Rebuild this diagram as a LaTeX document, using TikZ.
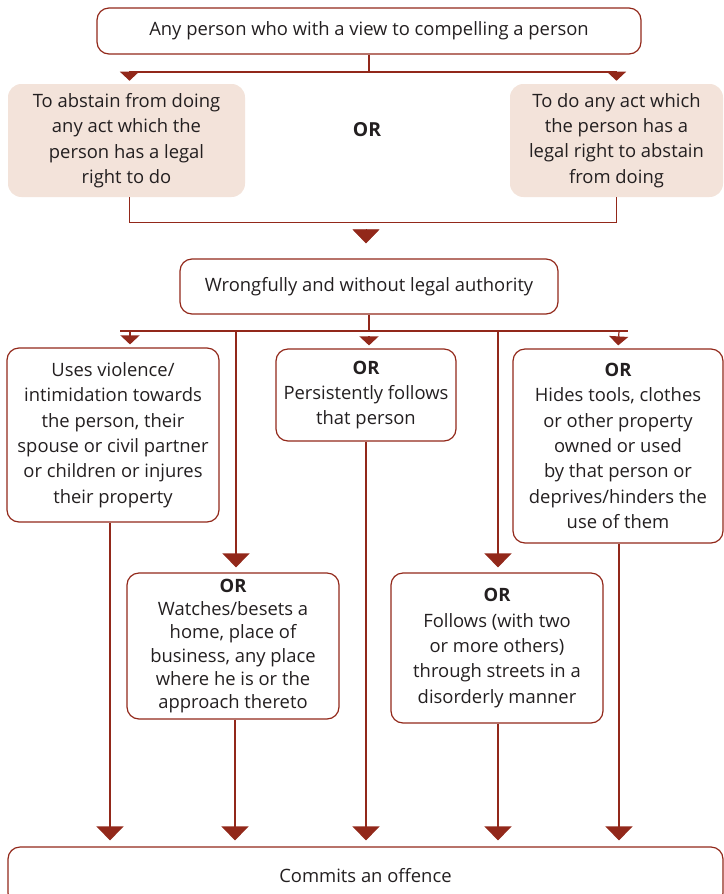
\documentclass[tikz,border=0pt]{standalone}
\usepackage{fontspec}
\setmainfont{Open Sans}
\usetikzlibrary{arrows.meta,calc}
\definecolor{linkred}{RGB}{146,40,26}
\definecolor{shade}{RGB}{243,227,218}
\definecolor{ink}{RGB}{35,31,32}
\def\px{0.75pt}

\begin{document}
\begin{tikzpicture}[x=0.75pt,y=-0.75pt,
		every node/.style={text=ink, font=\fontsize{13.8}{19}\selectfont},
		box/.style={draw=linkred, line width=0.9pt, rounded corners=9pt, align=center, inner sep=0pt},
		shadebox/.style={fill=shade, rounded corners=10pt, align=center, inner sep=0pt},
		link/.style={draw=linkred, line width=0.9pt},
		smalltip/.style={-{Triangle[width=19*\px,length=9*\px]}, linkred},
		bigtip/.style={-{Triangle[width=27*\px,length=14*\px]}, linkred}]
			%%%%% START %%%%%
			\useasboundingbox (0,0) rectangle (724,894);
			\clip (0,0) rectangle (724,894);
			
			\node[box, minimum width=544*\px, minimum height=46*\px] (top) at (369,31) {Any person who with a view to compelling a person};
			
			\node[shadebox, minimum width=237*\px, minimum height=113*\px] (lbox) at (126.5,140.5) {To abstain from doing\\any act which the\\person has a legal\\right to do};
			\node[font=\fontsize{14.5}{19}\selectfont\bfseries] (or) at (367,130) {OR};
			\node[shadebox, minimum width=213*\px, minimum height=113*\px] (rbox) at (616.5,140.5) {To do any act which\\the person has a\\legal right to abstain\\from doing};
			
			\node[box, minimum width=378*\px, minimum height=55*\px] (mid) at (369,286.5) {Wrongfully and without legal authority};
			
			\node[box, minimum width=212*\px, minimum height=174*\px] (A) at (113,435) {Uses violence/\\intimidation towards\\the person, their\\spouse or civil partner\\or children or injures\\their property};
			\node[box, minimum width=180*\px, minimum height=92*\px] (C) at (366,395) {\textbf{OR}\\Persistently follows\\that person};
			\node[box, minimum width=210*\px, minimum height=194*\px] (E) at (618,446) {\textbf{OR}\\Hides tools, clothes\\or other property\\owned or used\\by that person or\\deprives/hinders the\\use of them};
			
			\node[box, minimum width=212*\px, minimum height=146*\px, font=\fontsize{13.8}{17.5}\selectfont] (B) at (233,646) {\textbf{OR}\\Watches/besets a\\home, place of\\business, any place\\where he is or the\\approach thereto};
			\node[box, minimum width=212*\px, minimum height=150*\px] (D) at (497,648) {\textbf{OR}\\Follows (with two\\or more others)\\through streets in a\\disorderly manner};
			
			\node[box, minimum width=715*\px, minimum height=58*\px] (fin) at (365.5,876) {Commits an offence};
			
			%%%%% first split %%%%%
			\coordinate (split1) at (369,72);
			\draw[link] (top.south) -- (split1);
			\draw[link, smalltip, shorten >=3*\px] (split1) -| ($(lbox.north)+(3,0)$);
			\draw[link, smalltip, shorten >=3*\px] (split1) -| (rbox.north);
			
			\draw[link] ($(lbox.south)+(3,0)$) |- ($(lbox.south)+(240,25)$) -| (rbox.south);
			\draw[bigtip, shorten >=15*\px] ($(mid.north)+(-3,-29)$) -- ($(mid.north)+(-3,0)$);
			
			%%%%% second split %%%%%
			\coordinate (split2) at (369,331);
			\coordinate (busL) at (120,331);
			\coordinate (busR) at (628,331);
			\draw[link] (mid.south) -- (split2);
			\draw[link] (busL) -- (busR);
			\draw[link, smalltip, shorten >=3*\px] ($(busL)+(10,0)$) -- ($(A.north)+(17,0)$);
			\draw[link, smalltip, shorten >=3*\px] ($(split2)+(0,5)$) -- (split2 |- C.north);
			\draw[link, smalltip, shorten >=3*\px] ($(busR)+(-9,0)$) -- (E.north);
			\draw[link, bigtip, shorten >=5*\px] (split2 -| B.north) ++(3,0) coordinate (bl) -- (bl |- B.north);
			\draw[link, bigtip, shorten >=5*\px] (split2 -| D.north) ++(1,0) coordinate (dl) -- (dl |- D.north);
			
			%%%%% into the offence %%%%%
			\foreach \n/\dx in {A/-3,B/2,C/0,D/1,E/1}
				\draw[link, bigtip, shorten >=6*\px] ($(\n.south)+(\dx,0)$) -- ($(\n.south |- fin.north)+(\dx,0)$);
			
			%%%%% END %%%%%
\end{tikzpicture}
\end{document}
